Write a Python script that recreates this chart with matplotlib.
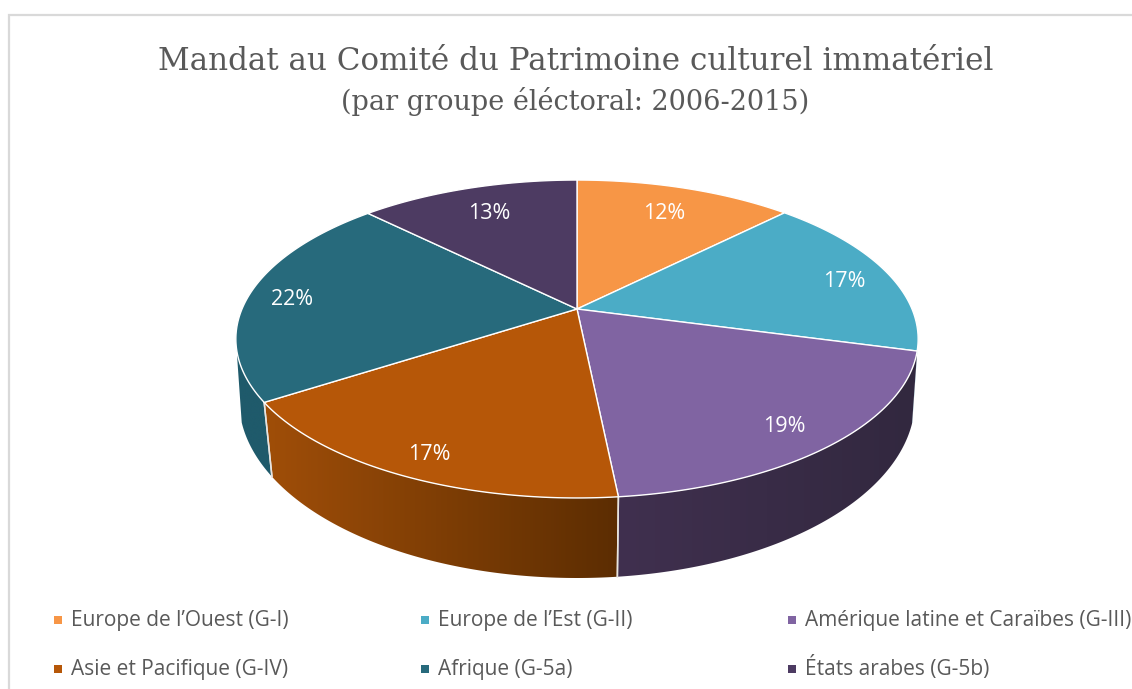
import numpy as np
import matplotlib
matplotlib.use("Agg")
import matplotlib.pyplot as plt
from matplotlib.patches import Polygon
from matplotlib.colors import to_rgb

TITLE = "Mandat au Comité du Patrimoine culturel immatériel"
SUBTITLE = "(par groupe éléctoral: 2006-2015)"
categories = ["Europe de l’Ouest (G-I)", "Europe de l’Est (G-II)", "Amérique latine et Caraïbes (G-III)",
              "Asie et Pacifique (G-IV)", "Afrique (G-5a)", "États arabes (G-5b)"]
values = [12.4, 16.8, 19.2, 17.4, 21.7, 12.5]
labels = ["12%", "17%", "19%", "17%", "22%", "13%"]
colors = ["#F79646", "#4BACC6", "#8064A2", "#B65708", "#276A7C", "#4D3B62"]
wall_left = ["#F79646", "#4BACC6", "#40304F", "#A04E08", "#1F5A6B", "#4D3B62"]
wall_right = ["#F79646", "#4BACC6", "#32283F", "#5C2D02", "#1F5A6B", "#4D3B62"]
label_r = [0.78, 0.86, 0.84, 0.87, 0.87, 0.78]
label_dy = [2, 5, 6, 4, 4, 2]

# Perspective of the pie disc, in figure pixels
CX, CY = 577.0, 309.0
A, B, K = 335.0, 153.3, 0.1887
# Lower rim of the wall
LOW_CY, LOW_RY, LOW_RX, LOW_SHRINK = 400.0, 178.0, 338.0, 0.975


def project(theta, r=1.0):
    """theta clockwise from 12 o'clock, radians."""
    x, y = r * np.sin(theta), r * np.cos(theta)
    w = 1 + K * y
    return CX + A * x / w, CY - B * y / w


def lower(px):
    d = px - CX
    s = LOW_SHRINK + 0.010 * np.clip((np.abs(d) - 310) / 30, 0, 1) ** 2
    dx = d * s
    return CX + dx, LOW_CY + LOW_RY * np.sqrt(np.clip(1 - (dx / LOW_RX) ** 2, 0, None))


fig = plt.figure(figsize=(11.32, 6.89), dpi=100)
ax = fig.add_axes([0, 0, 1, 1])
ax.axis("off")

# chart frame
ax.plot([9, 9, 1132], [689, 15, 15], color="#D9D9D9", lw=1.6, solid_joinstyle="miter", zorder=1)

fractions = np.cumsum([0] + values) / sum(values)
edges = 2 * np.pi * fractions

# walls: one horizontal gradient per slice, clipped to the wall's outline
for i in range(len(values)):
    t = np.linspace(edges[i], edges[i + 1], 300)
    px, py = project(t)
    keep = py >= 349
    if keep.sum() < 2:
        continue
    px, py = px[keep], py[keep]
    lx, ly = lower(px)
    outline = np.column_stack([np.r_[px, lx[::-1]], np.r_[py, ly[::-1]]])
    patch = Polygon(outline, closed=True, transform=ax.transData, facecolor="none", edgecolor="none")
    ax.add_patch(patch)
    lo, hi = outline[:, 0].min(), outline[:, 0].max()
    c0, c1 = np.array(to_rgb(wall_left[i])), np.array(to_rgb(wall_right[i]))
    ramp = np.linspace(0, 1, 256)[None, :, None]
    grad = c0[None, None, :] + (c1 - c0)[None, None, :] * ramp
    im = ax.imshow(grad, extent=[lo, hi, outline[:, 1].max(), outline[:, 1].min()], aspect="auto",
                   interpolation="bilinear", zorder=2)
    im.set_clip_path(patch)
    # wall separators at the slice boundaries
    for e in (edges[i], edges[i + 1]):
        ex, ey = project(e)
        if ey > 380:
            lx2, ly2 = lower(ex)
            ax.plot([ex, lx2], [ey, ly2], color="#E8E4E0", lw=1.1, zorder=3)

# top face
for i in range(len(values)):
    t = np.linspace(edges[i], edges[i + 1], 160)
    px, py = project(t)
    ax.fill(np.r_[CX, px], np.r_[CY, py], facecolor=colors[i], edgecolor="white", lw=1.0,
            joinstyle="round", zorder=4)

# percentage labels
for i, lab in enumerate(labels):
    mid = (edges[i] + edges[i + 1]) / 2
    lx, ly = project(mid, label_r[i])
    ax.text(lx, ly + label_dy[i], lab, color="white", fontsize=15.5, family="Open Sans",
            ha="center", va="center", zorder=5)

# titles
ax.text(576, 61, TITLE, family="DejaVu Serif", fontsize=22.3, color="#595959", ha="center", va="center")
ax.text(575, 101, SUBTITLE, family="DejaVu Serif", fontsize=19.5, color="#595959", ha="center", va="center")

# legend
col_x = [58, 425, 792]
row_y = [620, 669]
for i, name in enumerate(categories):
    x, y = col_x[i % 3], row_y[i // 3]
    ax.scatter([x], [y], marker="s", s=33, color=colors[i], linewidths=0, zorder=5)
    ax.text(x + 13, y + 6, name, family="Open Sans", fontsize=15, color="#595959", ha="left", va="baseline")

ax.set_xlim(0, 1132)
ax.set_ylim(689, 0)
fig.savefig("out.png", dpi=100)
